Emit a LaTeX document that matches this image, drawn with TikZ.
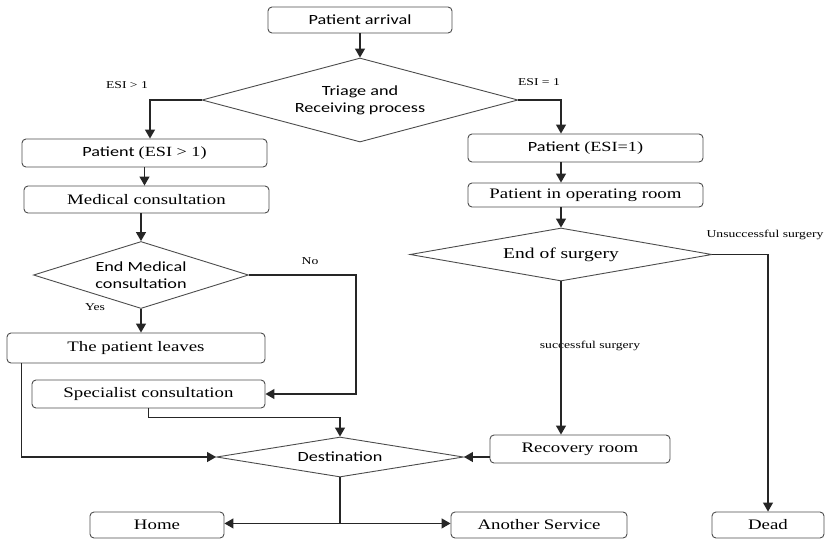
\documentclass[tikz,border=0pt]{standalone}
\usepackage{fontspec}
\setmainfont{Liberation Serif}[FakeStretch=1.3]
\newfontfamily\sanf{Carlito}[FakeStretch=1.3]
\usetikzlibrary{shapes.geometric,arrows.meta,calc}
\begin{document}
\begin{tikzpicture}[x=1pt,y=-1pt,
 box/.style={draw=black!70, line width=0.9pt, rounded corners=4pt, inner sep=0pt, font=\fontsize{14.5}{17}\selectfont},
 sbox/.style={box, font=\sanf\fontsize{14}{17}\selectfont},
 dia/.style={diamond, draw=black!70, line width=0.9pt, inner sep=0pt, align=center, font=\sanf\fontsize{14}{17}\selectfont},
 conn/.style={draw=black!85, line width=1.2pt},
 arr/.style={conn, -{Triangle[length=9pt,width=10pt]}},
 lab/.style={font=\fontsize{10.5}{12}\selectfont, inner sep=0pt}
]
\useasboundingbox (0,0) rectangle (826,539);

% nodes
\node[sbox, minimum width=184pt, minimum height=26pt] (arr) at (360,20) {Patient arrival};
\node[dia, minimum width=316pt, minimum height=84pt, aspect=3.76] (tri) at (360,100) {Triage and\\Receiving process};
\node[sbox, minimum width=245pt, minimum height=28pt] (p2) at (144.5,153) {Patient {\rmfamily (ESI > 1)}};
\node[box, minimum width=245pt, minimum height=27pt] (med) at (146.5,199.5) {Medical consultation};
\node[dia, minimum width=215pt, minimum height=67pt, aspect=3.2] (emc) at (141,275) {End Medical\\consultation};
\node[box, minimum width=258pt, minimum height=30pt] (leave) at (136,348) {The patient leaves};
\node[box, minimum width=233pt, minimum height=28pt] (spec) at (148.5,394) {Specialist consultation};
\node[dia, minimum width=247pt, minimum height=40pt, aspect=6.2] (dest) at (340,457) {Destination};
\node[box, minimum width=134pt, minimum height=26pt] (home) at (157,525) {Home};
\node[box, minimum width=176pt, minimum height=26pt] (oth) at (539,525) {Another Service};
\node[box, minimum width=112pt, minimum height=26pt] (dead) at (768,525) {Dead};
\node[sbox, minimum width=235pt, minimum height=28pt] (p1) at (585.5,148) {Patient {\rmfamily (ESI=1)}};
\node[box, minimum width=235pt, minimum height=24pt] (op) at (585.5,195) {Patient in operating room};
\node[dia, minimum width=302pt, minimum height=53pt, aspect=5.7, font=\rmfamily\fontsize{15}{17}\selectfont] (eos) at (561,254.5) {End of surgery};
\node[box, minimum width=180pt, minimum height=28pt] (rec) at (580,449) {Recovery room};

% labels
\node[lab] (l1) at (127,85) {ESI > 1};
\node[lab] (l2) at (539,82) {ESI = 1};
\node[lab] (l3) at (310,261) {No};
\node[lab] (l4) at (95,307) {Yes};
\node[lab] (l5) at (765,235) {Unsuccessful surgery};
\node[lab] (l6) at (590,346) {successful surgery};

% connectors
\draw[arr] (arr.south) -- (tri.north);
\draw[arr] (tri.west) -| ([xshift=5.5pt]p2.north);
\draw[arr] (tri.east) -| (p1.north -| eos.north);
\draw[arr] (p2.south) -- (p2.south |- med.north);
\draw[arr] (med.south -| emc.north) -- (emc.north);
\draw[arr] (emc.south) -- (emc.south |- leave.north);
\draw[arr] (emc.east) -- ++(107,0) |- (spec.east);
\draw[arr] ([xshift=15pt]leave.south west) |- (dest.west);
\draw[arr] (spec.south) -- ++(0,9) -| (dest.north);
\draw[conn] (dest.south) -- ++(0,46) coordinate (split);
\draw[arr] (split) -- (split -| home.east);
\draw[arr] (split) -- (split -| oth.west);
\draw[arr] (p1.south -| eos.north) -- (op.north -| eos.north);
\draw[arr] (op.south -| eos.north) -- (eos.north);
\draw[arr] (eos.south) -- (eos.south |- rec.north);
\draw[arr] (eos.east) -| (dead.north);
\draw[arr] (rec.west |- dest.east) -- (dest.east);
\end{tikzpicture}
\end{document}
